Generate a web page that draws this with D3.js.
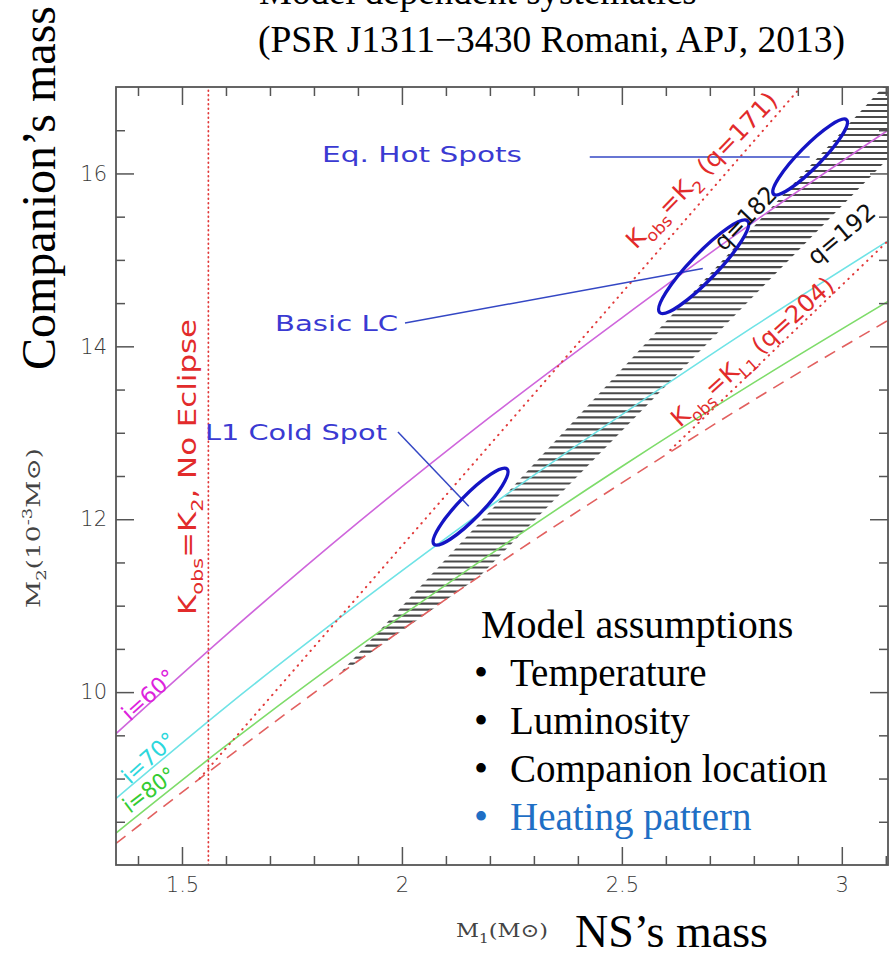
<!DOCTYPE html>
<html>
<head>
<meta charset="utf-8">
<script src="https://cdn.jsdelivr.net/npm/d3@7"></script>
<style>
  html, body { margin: 0; padding: 0; background: #fff; }
  svg { display: block; }
</style>
</head>
<body>
<svg id="chart" width="892" height="955"></svg>
<script>
// ---------------- data ----------------
const m1Grid   = [1.35, 1.6, 1.9, 2.2, 2.5, 2.8, 3.105];          // M1 (Msun) sample points
const incl60   = [9.52, 10.66, 11.96, 13.18, 14.33, 15.44, 16.50]; // M2 (1e-3 Msun), i=60°
const incl70   = [8.77, 9.83, 11.02, 12.15, 13.21, 14.23, 15.22];  // i=70°
const incl80   = [8.37, 9.38, 10.52, 11.59, 12.61, 13.58, 14.52];  // i=80°
const incl90   = [8.25, 9.23, 10.36, 11.42, 12.42, 13.38, 14.30];  // i=90° (dashed)

const kobsK2   = [[1.54, 9.0], [2.907, 17.0]];     // Kobs=K2 (q=171) dotted
const kobsKL1  = [[2.61, 12.80], [3.105, 15.22]];  // Kobs=KL1 (q=204) dotted
const noEclipse = [[1.56, 8.0], [1.56, 17.0]];     // Kobs=K2, No Eclipse (vertical)

const bandQ182 = [[1.854, 10.19], [3.094, 17.0]];  // q=182 edge of hatched band
const bandQ192 = [[2.177, 11.34], [3.105, 16.17]]; // q=192 edge of hatched band

const ellipseNames = ["L1 Cold Spot", "Basic LC", "Eq. Hot Spots"];
const ellipseEnds  = [
  [[2.073, 11.71], [2.239, 12.58]],
  [[2.586, 14.39], [2.786, 15.45]],
  [[2.845, 15.76], [3.011, 16.62]]
];
const ellipseAspect = [0.22, 0.21, 0.21];
const pointerLines = [
  [[1.991, 13.01], [2.152, 12.15]],
  [[2.007, 14.27], [2.684, 14.90]],
  [[2.427, 16.19], [2.927, 16.19]]
];

const xDomain = [1.35, 3.105];
const yDomain = [8, 17];
const xMajorTicks = [1.5, 2, 2.5, 3];
const xMinorTicks = [1.4, 1.6, 1.7, 1.8, 1.9, 2.1, 2.2, 2.3, 2.4, 2.6, 2.7, 2.8, 2.9, 3.1];
const yMajorTicks = [10, 12, 14, 16];
const yMinorTicks = [8.5, 9, 9.5, 10.5, 11, 11.5, 12.5, 13, 13.5, 14.5, 15, 15.5, 16.5];

const bulletItems = ["Temperature", "Luminosity", "Companion location", "Heating pattern"];

// ---------------- layout ----------------
const svg = d3.select("#chart");
const L = 116, R = 888, T = 87, B = 865;
const x = d3.scaleLinear().domain(xDomain).range([L, R]);
const y = d3.scaleLinear().domain(yDomain).range([B, T]);

const defs = svg.append("defs");
defs.append("clipPath").attr("id", "plotclip")
  .append("rect").attr("x", L).attr("y", T).attr("width", R - L).attr("height", B - T);

const bandPoly = [bandQ182[0], bandQ182[1], [xDomain[1], yDomain[1]], bandQ192[1], bandQ192[0]];
defs.append("clipPath").attr("id", "bandclip")
  .append("polygon")
  .attr("points", bandPoly.map(p => [x(p[0]), y(p[1])].join(",")).join(" "));

const plot = svg.append("g").attr("clip-path", "url(#plotclip)");

// hatching (horizontal lines inside the q=182..192 band)
const hatchG = plot.append("g").attr("clip-path", "url(#bandclip)");
const hatchLevels = d3.range(bandQ182[0][1], yDomain[1] + 0.07, 0.0695);
hatchG.selectAll("line").data(hatchLevels).join("line")
  .attr("x1", x(1.8)).attr("x2", x(3.2))
  .attr("y1", d => y(d)).attr("y2", d => y(d))
  .attr("stroke", "#4a4a4a").attr("stroke-width", 2.1);

const curve = d3.line().x(d => x(d[0])).y(d => y(d[1])).curve(d3.curveMonotoneX);
const straight = d3.line().x(d => x(d[0])).y(d => y(d[1]));

const inclSeries = [
  { vals: incl60, color: "#cf66dc", dash: null },
  { vals: incl70, color: "#6fe3e6", dash: null },
  { vals: incl80, color: "#7edc6a", dash: null },
  { vals: incl90, color: "#e2605f", dash: "12,8" }
];
inclSeries.forEach(s => {
  plot.append("path")
    .attr("d", curve(m1Grid.map((m, i) => [m, s.vals[i]])))
    .attr("fill", "none").attr("stroke", s.color).attr("stroke-width", 1.6)
    .attr("stroke-dasharray", s.dash);
});

[kobsK2, kobsKL1].forEach(seg => {
  plot.append("path").attr("d", straight(seg))
    .attr("fill", "none").attr("stroke", "#e23a3a").attr("stroke-width", 2)
    .attr("stroke-linecap", "round").attr("stroke-dasharray", "0.5,6");
});
plot.append("path").attr("d", straight(noEclipse))
  .attr("fill", "none").attr("stroke", "#e23a3a").attr("stroke-width", 1.8)
  .attr("stroke-linecap", "round").attr("stroke-dasharray", "0.5,4");

pointerLines.forEach(seg => {
  plot.append("path").attr("d", straight(seg))
    .attr("fill", "none").attr("stroke", "#3447c4").attr("stroke-width", 1.5);
});

ellipseEnds.forEach((e, i) => {
  const p1 = [x(e[0][0]), y(e[0][1])], p2 = [x(e[1][0]), y(e[1][1])];
  const cx = (p1[0] + p2[0]) / 2, cy = (p1[1] + p2[1]) / 2;
  const a = Math.hypot(p2[0] - p1[0], p2[1] - p1[1]) / 2;
  const ang = Math.atan2(p2[1] - p1[1], p2[0] - p1[0]) * 180 / Math.PI;
  plot.append("ellipse")
    .attr("cx", 0).attr("cy", 0).attr("rx", a).attr("ry", a * ellipseAspect[i])
    .attr("transform", `translate(${cx},${cy}) rotate(${ang})`)
    .attr("fill", "none").attr("stroke", "#1414c4").attr("stroke-width", 3.4);
});

// ---------------- axes ----------------
const axisColor = "#555";
function styleAxis(g) {
  g.select(".domain").remove();
  g.selectAll(".tick line").attr("stroke", axisColor).attr("stroke-width", 1.5);
  g.selectAll("text").attr("fill", "#3a3a3a").attr("font-family", "DejaVu Sans")
    .attr("font-size", 21).attr("font-weight", 300);
}
const fmt = d3.format("~g");
svg.append("g").attr("transform", `translate(0,${B})`)
  .call(d3.axisBottom(x).tickValues(xMajorTicks).tickSize(-18).tickPadding(12).tickFormat(fmt)).call(styleAxis);
svg.append("g").attr("transform", `translate(0,${B})`)
  .call(d3.axisBottom(x).tickValues(xMinorTicks).tickSize(-9).tickFormat("")).call(styleAxis);
svg.append("g").attr("transform", `translate(0,${T})`)
  .call(d3.axisTop(x).tickValues(xMajorTicks).tickSize(-18).tickFormat("")).call(styleAxis);
svg.append("g").attr("transform", `translate(0,${T})`)
  .call(d3.axisTop(x).tickValues(xMinorTicks).tickSize(-9).tickFormat("")).call(styleAxis);
svg.append("g").attr("transform", `translate(${L},0)`)
  .call(d3.axisLeft(y).tickValues(yMajorTicks).tickSize(-18).tickPadding(9).tickFormat(fmt)).call(styleAxis);
svg.append("g").attr("transform", `translate(${L},0)`)
  .call(d3.axisLeft(y).tickValues(yMinorTicks).tickSize(-9).tickFormat("")).call(styleAxis);
svg.append("g").attr("transform", `translate(${R},0)`)
  .call(d3.axisRight(y).tickValues(yMajorTicks).tickSize(-18).tickFormat("")).call(styleAxis);
svg.append("g").attr("transform", `translate(${R},0)`)
  .call(d3.axisRight(y).tickValues(yMinorTicks).tickSize(-9).tickFormat("")).call(styleAxis);

svg.append("rect").attr("x", L).attr("y", T).attr("width", R - L).attr("height", B - T)
  .attr("fill", "none").attr("stroke", axisColor).attr("stroke-width", 1.8);

// ---------------- annotation text ----------------
const plotFont = "DejaVu Sans";
function rich(g, parts, opts) {
  const t = g.append("text")
    .attr("font-family", opts.font || plotFont)
    .attr("font-size", opts.size)
    .attr("fill", opts.color)
    .attr("transform", opts.transform)
    .attr("text-anchor", opts.anchor || "start");
  if (opts.len) t.attr("textLength", opts.len).attr("lengthAdjust", "spacingAndGlyphs");
  let pending = 0;
  parts.forEach(p => {
    if (typeof p === "string") {
      t.append("tspan").attr("dy", pending ? pending.toFixed(1) : null)
        .attr("font-size", opts.size).text(p);
      pending = 0;
    } else {
      const shift = (p.sub ? 0.3 : -0.4) * opts.size;
      t.append("tspan").attr("dy", (shift + pending).toFixed(1))
        .attr("font-size", (opts.size * 0.68).toFixed(1)).text(p.t);
      pending = -shift;
    }
  });
  return t;
}

rich(svg, ["Eq. Hot Spots"], { size: 22, color: "#3a3ad2", transform: "translate(322,162)", len: 200 });
rich(svg, ["Basic LC"], { size: 22, color: "#3a3ad2", transform: "translate(275,331)", len: 123 });
rich(svg, ["L1 Cold Spot"], { size: 22, color: "#3a3ad2", transform: "translate(205,440)", len: 182 });

rich(svg, ["K", { t: "obs", sub: true }, "=K", { t: "2", sub: true }, ", No Eclipse"],
  { size: 24, color: "#e22b2b", transform: "translate(196,615) rotate(-90)", len: 296 });
rich(svg, ["K", { t: "obs", sub: true }, "=K", { t: "2", sub: true }, " (q=171)"],
  { size: 24, color: "#e22b2b", transform: "translate(636,250) rotate(-46)", len: 206 });
rich(svg, ["K", { t: "obs", sub: true }, "=K", { t: "L1", sub: true }, " (q=204)"],
  { size: 24, color: "#e22b2b", transform: "translate(680,428) rotate(-42)", len: 210 });

rich(svg, ["q=182"], { size: 24, color: "#111", transform: "translate(724,252) rotate(-46)", len: 78 });
rich(svg, ["q=192"], { size: 24, color: "#111", transform: "translate(816,266) rotate(-40)", len: 80 });

rich(svg, ["i=60°"], { size: 22, color: "#dd22dd", transform: "translate(130,722) rotate(-42)", len: 64 });
rich(svg, ["i=70°"], { size: 22, color: "#2cd7dc", transform: "translate(130,785) rotate(-42)", len: 64 });
rich(svg, ["i=80°"], { size: 22, color: "#33cc33", transform: "translate(130,814) rotate(-37)", len: 60 });

rich(svg, ["M", { t: "1", sub: true }, "(M\u2299)"],
  { size: 19, color: "#444", font: "DejaVu Serif", transform: "translate(456,937)", len: 92 });
rich(svg, ["M", { t: "2", sub: true }, "(10", { t: "-3", sub: false }, "M\u2299)"],
  { size: 19, color: "#444", font: "DejaVu Serif", transform: "translate(40,608) rotate(-90)", len: 160 });

// ---------------- slide overlay text ----------------
const serif = "Liberation Serif";
svg.append("text").attr("x", 259).attr("y", 4).attr("font-family", serif).attr("font-size", 37)
  .attr("fill", "#000").text("Model dependent systematics");
svg.append("text").attr("x", 258).attr("y", 52).attr("font-family", serif).attr("font-size", 37)
  .attr("fill", "#000").attr("textLength", 587).attr("lengthAdjust", "spacingAndGlyphs")
  .text("(PSR J1311\u22123430 Romani, APJ, 2013)");
svg.append("text").attr("transform", "translate(55,370) rotate(-90)").attr("font-family", serif)
  .attr("font-size", 48).attr("fill", "#000").text("Companion\u2019s mass");
svg.append("text").attr("x", 575).attr("y", 947).attr("font-family", serif).attr("font-size", 46)
  .attr("fill", "#000").text("NS\u2019s mass");
svg.append("text").attr("x", 481).attr("y", 638).attr("font-family", serif).attr("font-size", 40)
  .attr("fill", "#000").text("Model assumptions");

const list = svg.append("g");
bulletItems.forEach((item, i) => {
  const col = i === bulletItems.length - 1 ? "#1f6fc5" : "#000";
  list.append("text").attr("x", 481).attr("y", 686 + i * 48).attr("text-anchor", "middle")
    .attr("font-family", serif).attr("font-size", 40).attr("fill", col).text("\u2022");
  list.append("text").attr("x", 510).attr("y", 686 + i * 48)
    .attr("font-family", serif).attr("font-size", 39).attr("fill", col).text(item);
});
</script>
</body>
</html>
